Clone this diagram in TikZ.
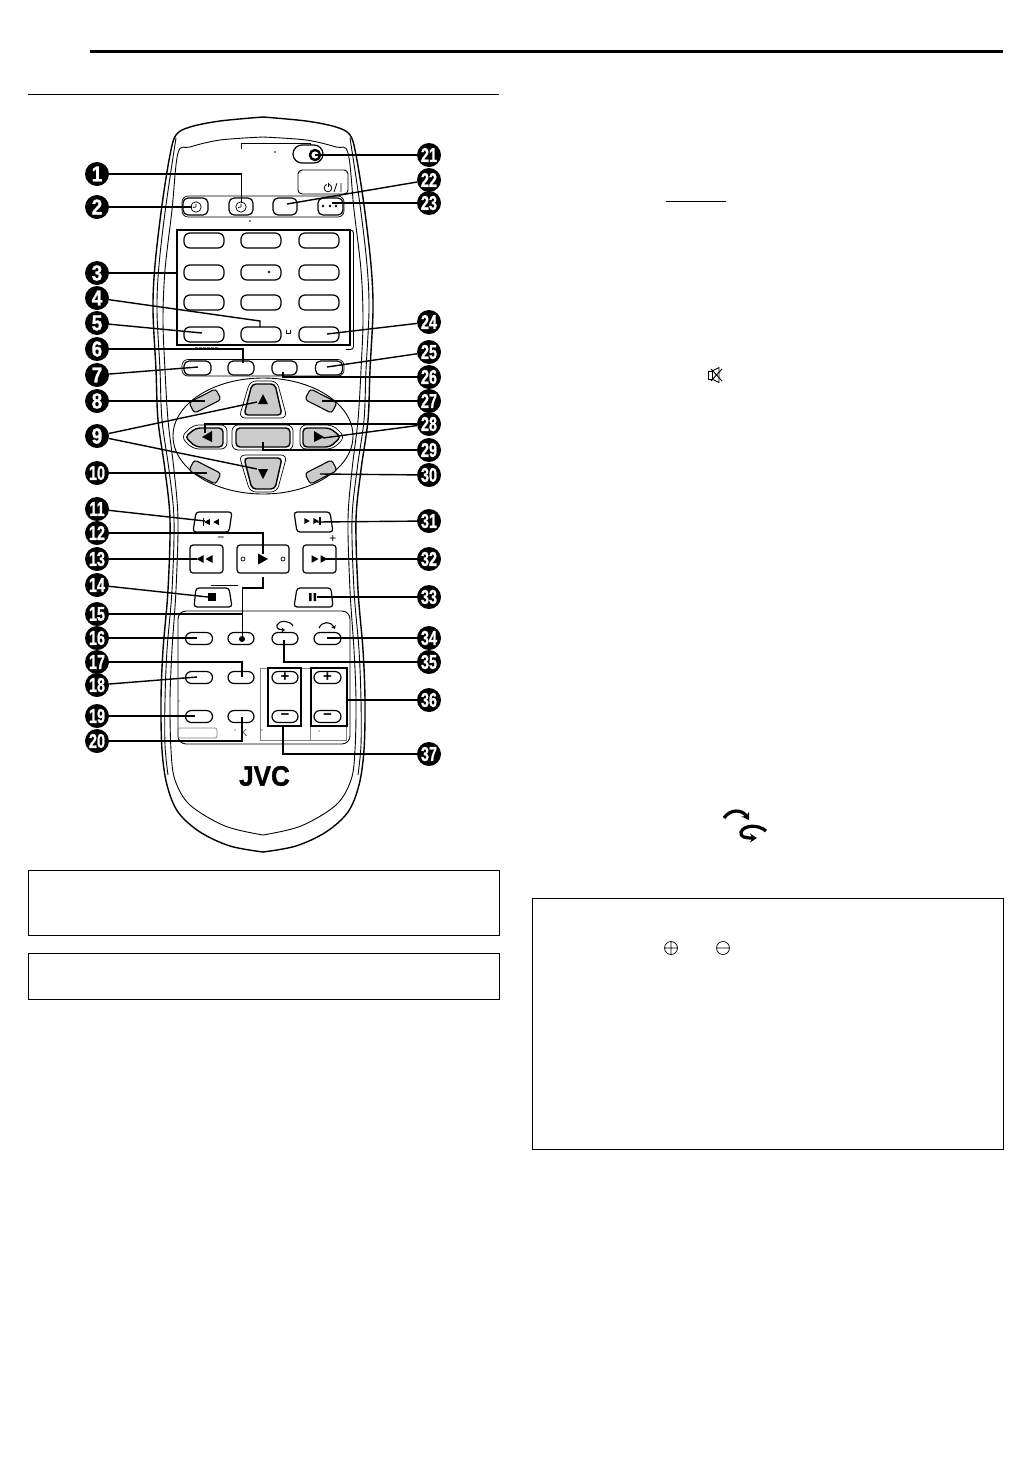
\documentclass[tikz,border=0pt]{standalone}
\usepackage{fontspec}
\setmainfont{Liberation Sans}
\newfontfamily\heavy[FakeBold=1.3]{Liberation Sans Bold}
\usetikzlibrary{arrows.meta}
\definecolor{padgray}{HTML}{CBCBCB}
\newcommand{\numtext}[1]{\ifnum#1>9 \scalebox{.72}[1]{#1}\else\scalebox{.95}[1.08]{#1}\fi}
\tikzset{
  conn/.style={line width=1.4pt,line cap=butt},
  numc/.style={circle,fill=black,text=white,inner sep=0pt,minimum size=24pt,font=\heavy\fontsize{20}{20}\selectfont},
  body/.style={line width=1.4pt,line cap=round},
  thinb/.style={line width=.9pt},
  btn/.style 2 args={draw=black,fill=white,line width=1.2pt,rounded corners=5pt,inner sep=0pt,minimum width=#1pt,minimum height=#2pt,font=\bfseries\fontsize{15}{15}\selectfont},
  ring/.style={draw=black,fill=white,line width=.7pt,rounded corners=6pt},
  gpad/.style={draw=black,fill=padgray,line width=1.4pt,rounded corners=4pt},
  diagbtn/.style={draw=black,fill=padgray,line width=1.1pt,rounded corners=3pt,inner sep=0pt,minimum width=30pt,minimum height=12pt},
  rule/.style={line width=1pt},
  tr/.pic={\fill (-5,-5.5)--(5,0)--(-5,5.5)--cycle;},
  tl/.pic={\fill (5,-5.5)--(-5,0)--(5,5.5)--cycle;},
}
\begin{document}
\begin{tikzpicture}[x=1pt,y=-1pt]
\useasboundingbox (0,0) rectangle (1031,1457);
\fill[white] (0,0) rectangle (1031,1457);

% page rules and boxes
\draw[line width=3pt] (90,51) -- (1003,51);
\draw[rule] (28,94.5) -- (499,94.5);
\draw[rule] (28,870) rectangle (499,935);
\draw[rule] (28,953) rectangle (499,999);
\draw[rule] (532.5,898.5) rectangle (1003.5,1149.5);
\draw[rule] (666,201) -- (726,201);

% right column symbols
\draw[line width=.9pt] (708.3,371) rectangle (712,379);
\draw[line width=.9pt] (712,371) -- (719,367.5) -- (719,382.5) -- (712,379);
\draw[line width=.9pt] (711,369) -- (722,381) (711,381) -- (722,369);
\draw[line width=3.2pt,-{Stealth[length=7pt,width=9pt]}] (724,818) .. controls (730,809) and (742,809) .. (749,820);
\draw[line width=3.2pt,-{Stealth[length=7pt,width=9pt]}] (766,831) .. controls (758,824) and (744,825) .. (741,832) .. controls (740,837) and (745,838) .. (757,838);
\draw[line width=.7pt] (671,948) circle (6.5) (664.5,948) -- (677.5,948) (671,941.5) -- (671,954.5);
\draw[line width=.7pt] (723,948) circle (6.5) (716.5,948) -- (729.5,948);

% remote body, left half then mirrored
\foreach \sc/\sh in {1/0,-1/526}{
\begin{scope}[shift={(\sh,0)},xscale=\sc]
\draw[body] plot[smooth,tension=.55] coordinates {(263,117) (220,121) (190,127) (176,135) (170,155) (162,205) (155,265) (153,310) (156,370) (158,420) (165,470) (170,520) (168,590) (163,650) (161,700) (162,750) (167,785) (178,812) (200,832) (230,846) (263,852)};
\draw[thinb] plot[smooth,tension=.55] coordinates {(176,138) (166,205) (159,265) (157,310) (160,370) (162,420) (169,470) (174,520) (172,590) (167,650) (165,700) (165,745) (168,775)};
\draw[thinb] plot[smooth,tension=.55] coordinates {(263,137) (220,140) (190,147) (178,153) (172,210) (165,270) (163,320) (165,370) (168,420) (174,470) (178,520) (176,590) (172,650) (170,700) (171,750) (175,780) (190,805) (225,826) (263,835)};
\end{scope}}

% top section
\draw[conn,line width=.9pt] (241.7,149) -- (241.7,143) -- (310,143) -- (310,146);
\node[btn={30}{18},rounded corners=9pt] (bpower) at (308,154) {};
\fill (275,152) circle (.8);
\draw[line width=2.4pt] (315,155) circle (5);
\draw[thinb,rounded corners=4pt] (298,170) rectangle (348,194);
\fill (300,172) circle (.7);
\draw[line width=.8pt] (328,188) circle (3.8);
\draw[white,line width=1.6pt] (328,184.2) -- (328,184.3);
\draw[line width=.8pt] (328,182.5) -- (328,187);
\draw[line width=.8pt] (334,192) -- (337,183) (341,183) -- (341,192);

\draw[ring] (182,196) rectangle (344,217);
\foreach \n/\x/\w in {a/195.5/25,b/241/24,d/330.5/25}{
  \node[btn={\w}{17}] (row1\n) at (\x,206.5) {};
}
\node[btn={24}{17}] (row1c) at (285,206.5) {};
\draw[line width=.7pt] (196,207) circle (5.2) (196,207) -- (196,203.5) (196,207) -- (193,207.5);
\draw[line width=.7pt] (241,207) circle (5.2) (241,207) -- (241,203.5) (241,207) -- (238,207.5);
\foreach \x in {323,330,336} \draw[line width=.6pt] (\x,206) circle (.9);
\fill (250,221) circle (.8);

% numeric grid
\draw[line width=1.4pt] (177,230) rectangle (350,345);
\draw[thinb,rounded corners=3pt] (351,230) -- (353.5,230) -- (353.5,349.5) -- (346,349.5);
\foreach \y in {240.5,272.5,302.5,334.5}
  \foreach \x/\n in {204/a,261/b,319/c}
    \node[btn={40}{15},rounded corners=6pt] (g\n\y) at (\x,\y) {};
\draw[line width=.5pt] (269,272) circle (1);
\draw[line width=.8pt] (286,330) -- (286,333) -- (290,333) -- (290,330);
\foreach \x in {195,199,203,207,211,215} \draw[line width=.6pt,gray] (\x,347.5) -- (\x+2.5,347.5);

% second row
\draw[ring] (182,359.5) rectangle (344,376);
\node[btn={27}{14}] (row2a) at (197.5,368) {};
\node[btn={26}{14}] (row2b) at (241,368) {};
\node[btn={25}{14}] (row2c) at (284.5,368) {};
\node[btn={27}{14}] (row2d) at (329,368) {};

% direction pad
\draw[thinb] (263,436) ellipse (90 and 58);
\foreach \a/\x/\y in {27/205/401,-27/205/472,-27/321/401,27/321/472}
  \node[diagbtn,rotate=\a] (diag\x\y) at (\x,\y) {};
\draw[ring] (239,418) -- (250,381) -- (277,381) -- (287,418) -- cycle;
\draw[gpad] (244,415) -- (252,384) -- (275,384) -- (282,415) -- cycle;
\draw[ring] (239,455) -- (250,492) -- (277,492) -- (287,455) -- cycle;
\draw[gpad] (244,458) -- (252,489) -- (275,489) -- (282,458) -- cycle;
\draw[ring] (181,437) -- (193,425) -- (227,425) -- (227,449) -- (193,449) -- cycle;
\draw[gpad] (185,437) -- (196,428) -- (223,428) -- (223,447) -- (196,447) -- cycle;
\draw[ring] (345,437) -- (333,425) -- (300,425) -- (300,449) -- (333,449) -- cycle;
\draw[gpad] (341,437) -- (330,428) -- (303,428) -- (303,447) -- (330,447) -- cycle;
\draw[ring] (232,425) rectangle (293,450);
\draw[gpad] (236,428) rectangle (290,447);
\path[fill] (263,394) -- (258,404) -- (268,404) -- cycle;
\path[fill] (263,479) -- (258,469) -- (268,469) -- cycle;
\path[fill] (202,437) -- (212,431) -- (212,442) -- cycle;
\path[fill] (324,437) -- (314,431) -- (314,442) -- cycle;

% transport
\draw[line width=1.2pt,fill=white,rounded corners=3pt] (196,512) -- (232,512) -- (229,532) -- (193,532) -- cycle;
\draw[line width=1.2pt,fill=white,rounded corners=3pt] (294,512) -- (330,512) -- (333,532) -- (297,532) -- cycle;
\node[btn={33}{28},rounded corners=3pt] (brew) at (206.5,559) {};
\node[btn={33}{28},rounded corners=3pt] (bff) at (319.5,559) {};
\node[btn={52}{28},rounded corners=3pt] (bplay) at (263,559) {};
\draw[line width=1.2pt,fill=white,rounded corners=3pt] (196,588) -- (229,588) -- (232,607) -- (194,607) -- cycle;
\draw[line width=1.2pt,fill=white,rounded corners=3pt] (297,588) -- (331,588) -- (333,607) -- (294,607) -- cycle;
\draw[line width=.7pt] (243,559) circle (2) (283,559) circle (2);
\pic at (263,559) {tr};
\pic[scale=.7] at (200,559) {tl};
\pic[scale=.7] at (209,559) {tl};
\pic[scale=.7] at (315,559) {tr};
\pic[scale=.7] at (324,559) {tr};
\pic[scale=.55] at (207,522) {tl};
\pic[scale=.55] at (216,522) {tl};
\draw[line width=1.1pt] (203.5,518) -- (203.5,526);
\pic[scale=.55] at (307,521) {tr};
\pic[scale=.55] at (316,521) {tr};
\draw[line width=1.1pt] (320,517) -- (320,525);
\fill (208,593) rectangle (216,601);
\fill (309,593) rectangle (311.5,601) (313.5,593) rectangle (316,601);
\node[font=\fontsize{12}{12}\selectfont,inner sep=0pt] (minus) at (221,539) {−};
\node[font=\fontsize{12}{12}\selectfont,inner sep=0pt] (plus) at (333,539) {+};
\draw[line width=.7pt] (211,585) -- (238,585);

% lower panel
\draw[thinb,rounded corners=8pt] (178,611) rectangle (350,744);
\draw[line width=.7pt,gray] (260,668) -- (260,740) (260,740) -- (346,740) -- (346,668) (310,668) -- (310,740) (260,668) -- (346,668);
\draw[line width=.7pt,gray,rounded corners=2pt] (178,728) rectangle (217,738);
\node[btn={27}{12},rounded corners=6pt] (p1a) at (199,638.5) {};
\node[btn={26}{12},rounded corners=6pt] (p1b) at (241,638.5) {};
\node[btn={26}{12},rounded corners=6pt] (p1c) at (285,638.5) {};
\node[btn={27}{12},rounded corners=6pt] (p1d) at (327.5,638.5) {};
\node[btn={27}{12},rounded corners=6pt] (p2a) at (199,677.5) {};
\node[btn={26}{12},rounded corners=6pt] (p2b) at (241,677.5) {};
\node[btn={26}{12},rounded corners=6pt] (p2c) at (285,677.5) {+};
\node[btn={27}{12},rounded corners=6pt] (p2d) at (327.5,677.5) {+};
\node[btn={27}{12},rounded corners=6pt] (p3a) at (199,716.5) {};
\node[btn={26}{12},rounded corners=6pt] (p3b) at (241,716.5) {};
\node[btn={26}{12},rounded corners=6pt] (p3c) at (285,716.5) {−};
\node[btn={27}{12},rounded corners=6pt] (p3d) at (327.5,716.5) {−};
\draw[line width=1.4pt] (268,668) rectangle (301,726);
\draw[line width=1.4pt] (311,668) rectangle (347,726);
\fill (242,639) circle (3);
\draw[line width=1.1pt,-{Stealth[length=3.5pt,width=5pt]}] (293,626) .. controls (290,620) and (279,620) .. (277,625) .. controls (276,629) and (280,630) .. (285,630);
\draw[line width=1.1pt,-{Stealth[length=3.5pt,width=5pt]}] (319,628) .. controls (322,621) and (331,621) .. (335,629);
\foreach \x/\y in {179/701,262/730,319/731,235/730} \fill (\x,\y) circle (.7);
\node[font=\fontsize{10}{10}\selectfont,inner sep=0pt,text=black!75] (kmark) at (244,733) {K};
\node[font=\heavy\fontsize{28}{28}\selectfont,inner sep=0pt,xscale=.93] (jvc) at (264.5,776) {JVC};

% numbers
\foreach \i/\x/\y in {1/97/174,2/97/207,3/97/273,4/97/298,5/97/323,6/97/349,7/97/375,8/97/401,9/97/436,10/97/473,11/97/509,12/97/533,13/97/559,14/97/585,15/97/614,16/97/638,17/97/662,18/97/685,19/97/716,20/97/741,
  21/429/155,22/429/180,23/429/203,24/429/322,25/429/352,26/429/377,27/429/401,28/429/424,29/429/450,30/429/475,31/429/521,32/429/559,33/429/597,34/429/638,35/429/662,36/429/700,37/429/754}
  \node[numc] (n\i) at (\x,\y) {\numtext{\i}};

% connector targets
\foreach \nm/\x/\y in {t1/241.7/203,t2/192/207,t3/177/273,t4/260/327,t4b/260/321,t5/202/333,t6/243/363,t7/198/367,t8/205/401,t9a/257/402,t9b/257/469,t10/207/473,t11/205/521,t12/263/554,t13/197/559,t14/208/597,t15/242.5/639,t15a/242.5/588,t15b/263/588,t15c/263/577,t16/197/638,t17/242/677,t18/197/677,t19/195/716,t20/242/717,
  t21/315/155,t22/287/204,t23/332/203,t24/327/334,t25/327/367,t26/283/372,t27/322/401,t28a/205/433,t28c/205/424,t28b/323/438,t29/263/442,t30/320/474,t31/317/522,t32/323/559,t33/317/597,t34/327/638,t35/284/640,t36/347/700,t37/283/726}
  \coordinate (\nm) at (\x,\y);

% connectors
\draw[conn] (n1) -| (t1);
\draw[conn] (n2) -- (t2);
\draw[conn] (n3) -- (t3);
\draw[conn] (n4) -- (t4b) -- (t4);
\draw[conn] (n5) -- (t5);
\draw[conn] (n6) -| (t6);
\draw[conn] (n7) -- (t7);
\draw[conn] (n8) -- (t8);
\draw[conn] (n9) -- (t9a);
\draw[conn] (n9) -- (t9b);
\draw[conn] (n10) -- (t10);
\draw[conn] (n11) -- (t11);
\draw[conn] (n12) -| (t12);
\draw[conn] (n13) -- (t13);
\draw[conn] (n14) -- (t14);
\draw[conn] (n15) -| (t15);
\draw[conn] (t15c) -- (t15b) -- (t15a) -- (t15);
\draw[conn] (n16) -- (t16);
\draw[conn] (n17) -| (t17);
\draw[conn] (n18) -- (t18);
\draw[conn] (n19) -- (t19);
\draw[conn] (n20) -| (t20);
\draw[conn] (n21) -- (t21);
\draw[conn] (n22) -- (t22);
\draw[conn] (n23) -- (t23);
\draw[conn] (n24) -- (t24);
\draw[conn] (n25) -- (t25);
\draw[conn] (n26) -| (t26);
\draw[conn] (n27) -- (t27);
\draw[conn] (n28) -| (t28a);
\draw[conn] (n28) -- (t28b);
\draw[conn] (n29) -| (t29);
\draw[conn] (n30) -- (t30);
\draw[conn] (n31) -- (t31);
\draw[conn] (n32) -- (t32);
\draw[conn] (n33) -- (t33);
\draw[conn] (n34) -- (t34);
\draw[conn] (n35) -| (t35);
\draw[conn] (n36) -- (t36);
\draw[conn] (n37) -| (t37);
\end{tikzpicture}
\end{document}
